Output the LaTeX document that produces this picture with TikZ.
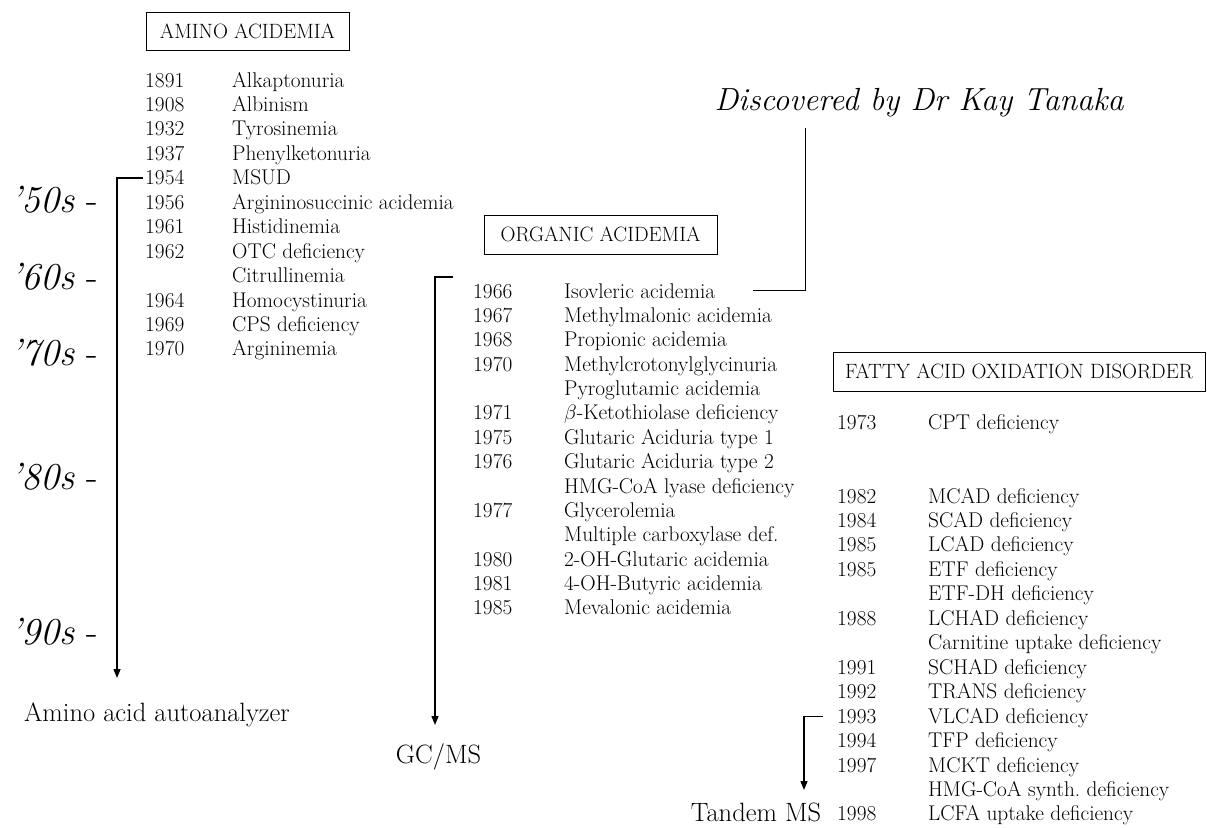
\documentclass[tikz,border=0pt]{standalone}
\usepackage{tikz}
\usetikzlibrary{arrows.meta, positioning}
\tikzset{
  heading/.style={
    rectangle,
    draw=black,
    line width=0.9pt,
    inner sep=0pt,
    font=\fontsize{20.7}{22}\selectfont
  },
  entry/.style={
    anchor=base west,
    inner sep=0pt,
    font=\fontsize{21.3}{22}\selectfont
  },
  decade/.style={
    anchor=west,
    inner sep=0pt,
    font=\fontsize{38}{40}\selectfont
  },
  method/.style={
    inner sep=0pt,
    font=\fontsize{26.5}{28}\selectfont
  },
  arrow/.style={
    -{Triangle[length=9pt, width=7pt]},
    line width=1.4pt
  },
  link/.style={
    line width=1pt
  }
}

\begin{document}
\begin{tikzpicture}[x=1pt, y=-1pt]
    \useasboundingbox (0,0) rectangle (1207,827);

    % decades
    \node[decade] (d50) at (10,200) {\textit{'50s} -};
    \node[decade] (d60) at (10,277) {\textit{'60s} -};
    \node[decade] (d70) at (10,353) {\textit{'70s} -};
    \node[decade] (d80) at (10,477) {\textit{'80s} -};
    \node[decade] (d90) at (10,632) {\textit{'90s} -};

    % amino acidemia
    \node[heading, minimum width=203pt, minimum height=38pt] (amino) at (247.5,31) {AMINO ACIDEMIA};
    \foreach \yr/\nm [count=\i] in {1891/Alkaptonuria, 1908/Albinism, 1932/Tyrosinemia,
        1937/Phenylketonuria, 1954/MSUD, 1956/Argininosuccinic acidemia, 1961/Histidinemia,
        1962/OTC deficiency, /Citrullinemia, 1964/Homocystinuria, 1969/CPS deficiency,
        1970/Argininemia} {
      \node[entry] (aminoyr\i) at (145,{87+24.45*(\i-1)}) {\yr};
      \node[entry] (aminonm\i) at (232,{87+24.45*(\i-1)}) {\nm};
    }
    \node[method] (analyzer) at (157,715) {Amino acid autoanalyzer};
    \coordinate (aminoend) at (117,678);
    \draw[arrow] ([xshift=-2pt]aminoyr5.west) -| (aminoend);

    % organic acidemia
    \node[heading, minimum width=233pt, minimum height=39pt] (organic) at (600.5,234.5) {ORGANIC ACIDEMIA};
    \foreach \yr/\nm [count=\i] in {1966/Isovleric acidemia, 1967/Methylmalonic acidemia,
        1968/Propionic acidemia, 1970/Methylcrotonylglycinuria, /Pyroglutamic acidemia,
        1971/$\beta$-Ketothiolase deficiency, 1975/Glutaric Aciduria type 1,
        1976/Glutaric Aciduria type 2, /HMG-CoA lyase deficiency, 1977/Glycerolemia,
        /Multiple carboxylase def., 1980/2-OH-Glutaric acidemia, 1981/4-OH-Butyric acidemia,
        1985/Mevalonic acidemia} {
      \node[entry] (orgyr\i) at (473,{298+24.38*(\i-1)}) {\yr};
      \node[entry] (orgnm\i) at (564,{298+24.38*(\i-1)}) {\nm};
    }
    \node[method] (gcms) at (438.5,757) {GC/MS};
    \coordinate (orgtop) at (453,277);
    \coordinate (orgend) at (435,725);
    \draw[arrow] (orgtop) -| (orgend);

    % tanaka
    \node[inner sep=0pt, font=\fontsize{32}{34}\selectfont\itshape] (tanaka) at (919,103) {Discovered by Dr Kay Tanaka};
    \coordinate (tanakadrop) at (805,128);
    \draw[link] (tanakadrop) |- ([xshift=38pt]orgnm1.east);

    % fatty acid oxidation disorder
    \node[heading, minimum width=372pt, minimum height=39pt] (fatty) at (1019,371.5) {FATTY ACID OXIDATION DISORDER};
    \node[entry] (fattycptyr) at (837,429) {1973};
    \node[entry] (fattycptnm) at (928,429) {CPT deficiency};
    \foreach \yr/\nm [count=\i] in {1982/MCAD deficiency, 1984/SCAD deficiency,
        1985/LCAD deficiency, 1985/ETF deficiency, /ETF-DH deficiency, 1988/LCHAD deficiency,
        /Carnitine uptake deficiency, 1991/SCHAD deficiency, 1992/TRANS deficiency,
        1993/VLCAD deficiency, 1994/TFP deficiency, 1997/MCKT deficiency,
        /HMG-CoA synth.\ deficiency, 1998/LCFA uptake deficiency} {
      \node[entry] (fattyyr\i) at (837,{503+24.46*(\i-1)}) {\yr};
      \node[entry] (fattynm\i) at (928,{503+24.46*(\i-1)}) {\nm};
    }
    \node[method] (tandem) at (756,812) {Tandem MS};
    \coordinate (tandemend) at (804,790);
    \draw[arrow] ([xshift=-14pt]fattyyr10.west) -| (tandemend);
\end{tikzpicture}
\end{document}
